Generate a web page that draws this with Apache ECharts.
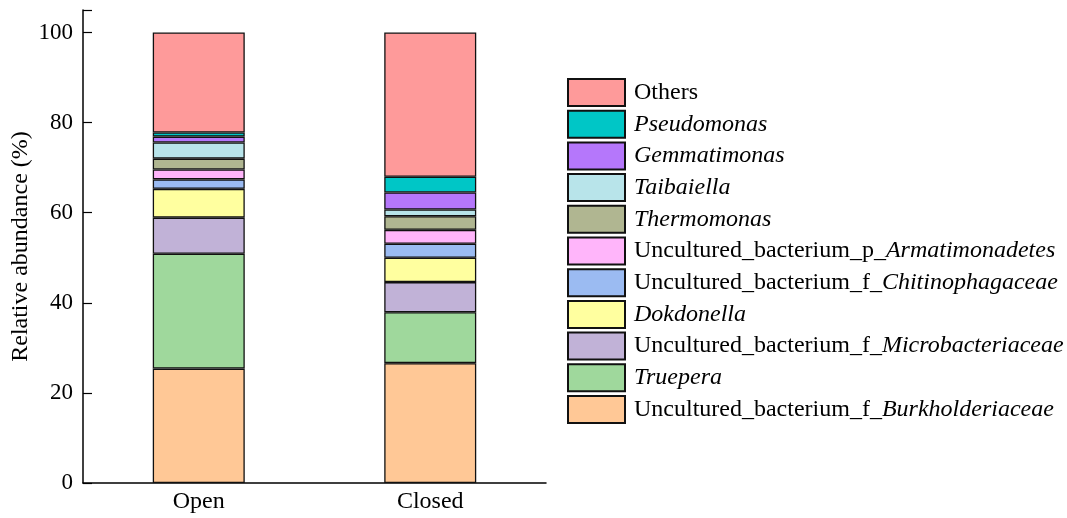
<!DOCTYPE html>
<html>
<head>
<meta charset="utf-8">
<script src="https://cdn.jsdelivr.net/npm/echarts@6/dist/echarts.min.js"></script>
<style>
html, body { margin: 0; padding: 0; background: #fff; }
#chart { width: 1067px; height: 518px; }
</style>
</head>
<body>
<div id="chart"></div>
<script>
// samples
const groups = ['Open', 'Closed'];

// taxa, bottom of the stack first
const taxa = [
    'Uncultured_bacterium_f_Burkholderiaceae',
    'Truepera',
    'Uncultured_bacterium_f_Microbacteriaceae',
    'Dokdonella',
    'Uncultured_bacterium_f_Chitinophagaceae',
    'Uncultured_bacterium_p_Armatimonadetes',
    'Thermomonas',
    'Taibaiella',
    'Gemmatimonas',
    'Pseudomonas',
    'Others'
];

// relative abundance (%) per taxon: [Open, Closed]
const burkholderiaceae = [25.4, 26.6];
const truepera = [25.5, 11.3];
const microbacteriaceae = [8.0, 6.7];
const dokdonella = [6.4, 5.4];
const chitinophagaceae = [2.1, 3.1];
const armatimonadetes = [2.2, 3.1];
const thermomonas = [2.4, 3.0];
const taibaiella = [3.6, 1.5];
const gemmatimonas = [1.3, 3.8];
const pseudomonas = [0.9, 3.5];
const others = [22.2, 32.0];

const values = [burkholderiaceae, truepera, microbacteriaceae, dokdonella, chitinophagaceae,
    armatimonadetes, thermomonas, taibaiella, gemmatimonas, pseudomonas, others];

const colors = ['#ffc896', '#9fd89c', '#c1b2d7', '#ffff9f', '#9bbbf2',
    '#ffb5fa', '#b0b691', '#b8e4ea', '#b577fb', '#00c6c6', '#fe9a9a'];

const yTicks = [0, 20, 40, 60, 80, 100];

const font = 'Liberation Serif, Times New Roman, serif';

const myChart = echarts.init(document.getElementById('chart'));

// genus part of the name goes italic
function legendLabel(name) {
    if (name === 'Others') return '{n|Others}';
    if (name.indexOf('Uncultured') === 0) {
        const cut = name.lastIndexOf('_') + 1;
        return '{n|' + name.slice(0, cut) + '}{i|' + name.slice(cut) + '}';
    }
    return '{i|' + name + '}';
}

const option = {
    animation: false,
    textStyle: { fontFamily: font },
    grid: {
        left: 83,
        right: 521,
        top: 10,
        bottom: 35
    },
    legend: {
        orient: 'vertical',
        left: 567,
        top: 78,
        padding: 0,
        itemWidth: 57,
        itemHeight: 27,
        itemGap: 2.7,
        icon: 'rect',
        data: taxa.slice().reverse(),
        formatter: legendLabel,
        textStyle: {
            fontFamily: font,
            fontSize: 24,
            color: '#000',
            padding: [0, 0, 0, 4],
            rich: {
                n: { fontFamily: font, fontSize: 24, color: '#000' },
                i: { fontFamily: font, fontSize: 24, color: '#000', fontStyle: 'italic' }
            }
        }
    },
    xAxis: {
        type: 'category',
        data: groups,
        axisLine: { lineStyle: { color: '#000', width: 1.5 } },
        axisTick: { show: false },
        axisLabel: { color: '#000', fontSize: 24, fontFamily: font, margin: 7 }
    },
    yAxis: {
        type: 'value',
        min: 0,
        max: 105,
        interval: 20,
        name: 'Relative abundance (%)',
        nameLocation: 'middle',
        nameGap: 50,
        nameRotate: 90,
        nameTextStyle: { color: '#000', fontSize: 24, fontFamily: font },
        axisLine: { show: true, lineStyle: { color: '#000', width: 1.5 } },
        axisTick: { show: true, inside: true, length: 9, lineStyle: { color: '#000', width: 1.2 } },
        splitLine: { show: false },
        axisLabel: {
            color: '#000',
            fontSize: 23,
            fontFamily: font,
            margin: 10,
            formatter: function (v) { return yTicks.indexOf(v) >= 0 ? v : ''; }
        }
    },
    series: taxa.map(function (name, i) {
        return {
            name: name,
            type: 'bar',
            stack: 'total',
            barWidth: 92,
            data: values[i],
            itemStyle: { color: colors[i], borderColor: '#111', borderWidth: 1.3 }
        };
    })
};

myChart.setOption(option);
</script>
</body>
</html>
